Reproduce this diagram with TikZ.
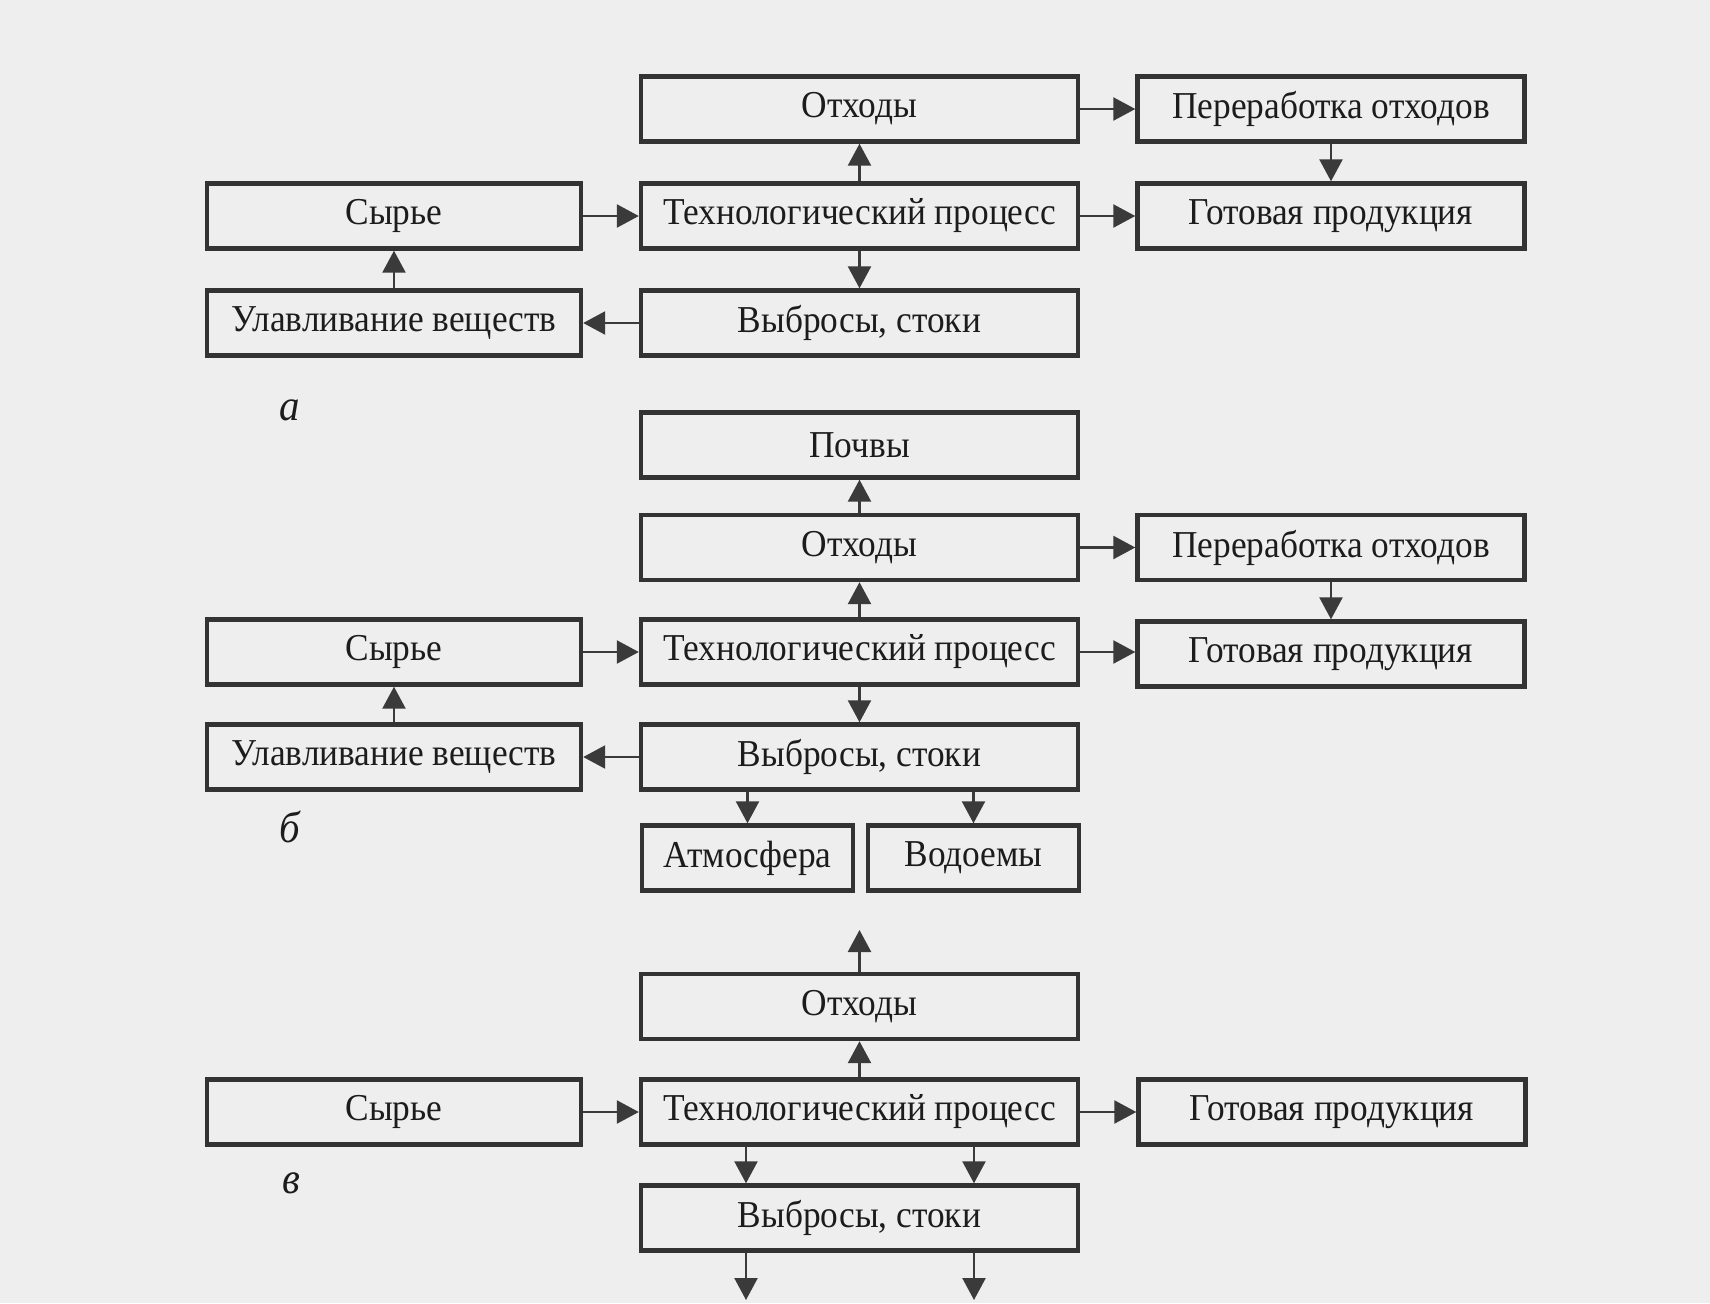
\documentclass[tikz,border=0pt]{standalone}
\usepackage{fontspec}
\setmainfont{Liberation Serif}[FakeStretch=0.93]
\usetikzlibrary{arrows.meta}
\definecolor{paper}{HTML}{EEEEEE}
\definecolor{frame}{HTML}{333333}
\definecolor{ink}{HTML}{1C1C1C}
\definecolor{arr}{HTML}{3A3A3A}
\begin{document}
\begin{tikzpicture}[x=0.5pt,y=-0.5pt,
  box/.style={draw=frame, line width=2.2pt, minimum height=32.5pt, inner sep=0pt,
    text=ink, font=\fontsize{19}{22}\selectfont},
  lbox/.style={box, minimum width=187pt},
  mbox/.style={box, minimum width=218.5pt},
  rbox/.style={box, minimum width=193.5pt},
  sbox/.style={box, minimum width=105.5pt},
  conn/.style={draw=arr, line width=1.2pt, -{Triangle[length=11pt,width=11.5pt]}, fill=arr},
  tag/.style={text=ink, font=\fontsize{22}{24}\selectfont\itshape}]
\fill[paper] (0,0) rectangle (1710,1303);
\useasboundingbox (0,0) rectangle (1710,1303);

% ---- a ----
\node[mbox] (aO) at (859.5,109) {Отходы};
\node[rbox] (aP) at (1331,109) {Переработка отходов};
\node[lbox] (aS) at (394,216) {Сырье};
\node[mbox] (aT) at (859.5,216) {Технологический процесс};
\node[rbox] (aG) at (1331,216) {Готовая продукция};
\node[lbox] (aU) at (394,323) {Улавливание веществ};
\node[mbox] (aV) at (859.5,323) {Выбросы, стоки};
\node[tag] (la) at (290,410) {а};

\draw[conn] (aS) -- (aT);
\draw[conn] (aT) -- (aO);
\draw[conn] (aT) -- (aV);
\draw[conn] (aV) -- (aU);
\draw[conn] (aU) -- (aS);
\draw[conn] (aO) -- (aP);
\draw[conn] (aT) -- (aG);
\draw[conn] (aP) -- (aG);

% ---- b ----
\node[mbox] (bPo) at (859.5,445) {Почвы};
\node[mbox] (bO) at (859.5,547.5) {Отходы};
\node[rbox] (bP) at (1331,547.5) {Переработка отходов};
\node[lbox] (bS) at (394,652) {Сырье};
\node[mbox] (bT) at (859.5,652) {Технологический процесс};
\node[rbox] (bG) at (1331,654) {Готовая продукция};
\node[lbox] (bU) at (394,757) {Улавливание веществ};
\node[mbox] (bV) at (859.5,757) {Выбросы, стоки};
\node[sbox] (bA) at (747.5,858) {Атмосфера};
\node[sbox] (bW) at (973.5,858) {Водоемы};
\node[tag] (lb) at (290,827) {б};

\draw[conn] (bS) -- (bT);
\draw[conn] (bT) -- (bO);
\draw[conn] (bO) -- (bPo);
\draw[conn] (bT) -- (bV);
\draw[conn] (bV) -- (bU);
\draw[conn] (bU) -- (bS);
\draw[conn] (bO) -- (bP);
\draw[conn] (bT.east) -- (bT.east -| bG.west);
\draw[conn] (bP) -- (bG.north -| bP.south);
\draw[conn] (bV.south -| bA.north) -- (bA.north);
\draw[conn] (bV.south -| bW.north) -- (bW.north);

% ---- v ----
\node[mbox] (vO) at (859.5,1006.5) {Отходы};
\node[lbox] (vS) at (394,1112) {Сырье};
\node[mbox] (vT) at (859.5,1112) {Технологический процесс};
\node[rbox] (vG) at (1332,1112) {Готовая продукция};
\node[mbox] (vV) at (859.5,1218) {Выбросы, стоки};
\node[tag] (lv) at (291,1183) {в};
\coordinate (vUp) at (859.5,930);
\coordinate (vL) at (746,1300);
\coordinate (vR) at (974,1300);

\draw[conn] (vS) -- (vT);
\draw[conn] (vT) -- (vO);
\draw[conn] (vO) -- (vUp);
\draw[conn] (vT) -- (vG);
\draw[conn] (vT.south -| vL) -- (vV.north -| vL);
\draw[conn] (vT.south -| vR) -- (vV.north -| vR);
\draw[conn] (vV.south -| vL) -- (vL);
\draw[conn] (vV.south -| vR) -- (vR);
\end{tikzpicture}
\end{document}
